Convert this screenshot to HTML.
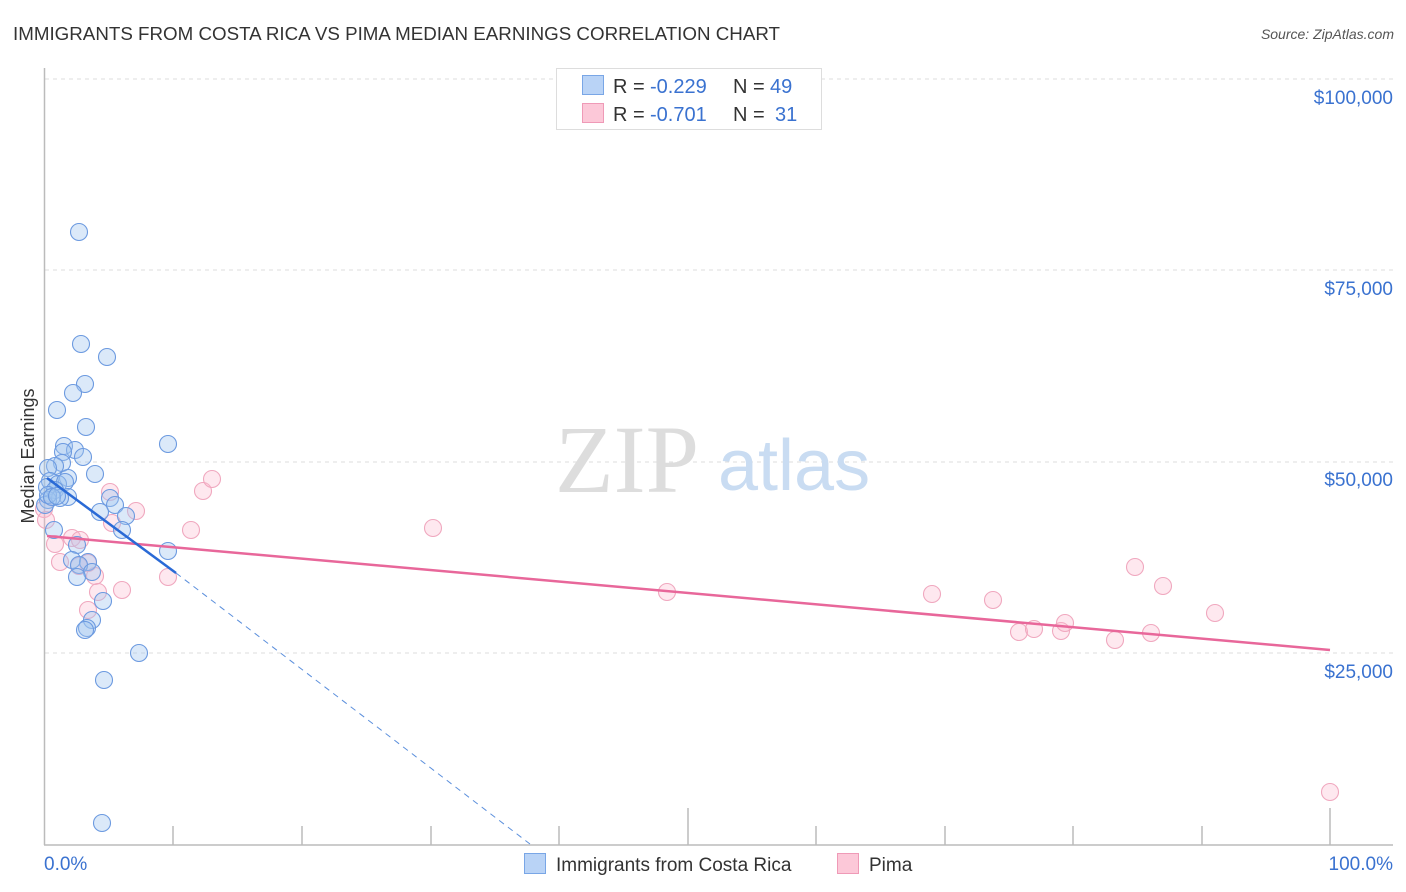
<!DOCTYPE html>
<html><head><meta charset="utf-8"><style>
html,body{margin:0;padding:0;background:#fff;}
svg{display:block;font-family:"Liberation Sans",sans-serif;}
</style></head><body>
<svg width="1406" height="892" viewBox="0 0 1406 892" xmlns="http://www.w3.org/2000/svg">
<text x="13" y="40" font-size="18" fill="#333" textLength="767" lengthAdjust="spacingAndGlyphs">IMMIGRANTS FROM COSTA RICA VS PIMA MEDIAN EARNINGS CORRELATION CHART</text>
<text x="1394" y="39" font-size="14" fill="#555" font-style="italic" text-anchor="end">Source: ZipAtlas.com</text>
<g stroke="#ddd" stroke-dasharray="4,4" stroke-width="1">
<line x1="45" y1="79" x2="1393" y2="79"/><line x1="45" y1="270" x2="1393" y2="270"/>
<line x1="45" y1="462" x2="1393" y2="462"/><line x1="45" y1="653" x2="1393" y2="653"/>
</g>
<text x="555" y="492" font-family="Liberation Serif,serif" font-size="96" fill="#ddd">ZIP</text>
<text x="718" y="490" font-size="72" fill="#c9dcf2">atlas</text>
<g stroke="#bbb" stroke-width="1.5">
<line x1="44.5" y1="68" x2="44.5" y2="845"/><line x1="44" y1="845" x2="1393" y2="845"/>
<line x1="173" y1="826" x2="173" y2="845"/><line x1="302" y1="826" x2="302" y2="845"/><line x1="431" y1="826" x2="431" y2="845"/><line x1="559" y1="826" x2="559" y2="845"/><line x1="688" y1="808" x2="688" y2="845"/><line x1="816" y1="826" x2="816" y2="845"/><line x1="945" y1="826" x2="945" y2="845"/><line x1="1073" y1="826" x2="1073" y2="845"/><line x1="1202" y1="826" x2="1202" y2="845"/><line x1="1330" y1="808" x2="1330" y2="845"/>
</g>
<g font-size="19" fill="#3a72d0" text-anchor="end">
<text x="1393" y="104">$100,000</text><text x="1393" y="295">$75,000</text><text x="1393" y="486">$50,000</text><text x="1393" y="678">$25,000</text>
</g>
<text x="44" y="870" font-size="19" fill="#3a72d0">0.0%</text>
<text x="1393" y="870" font-size="19" fill="#3a72d0" text-anchor="end">100.0%</text>
<text transform="translate(34,456) rotate(-90)" font-size="18" fill="#333" text-anchor="middle">Median Earnings</text>
<g fill="rgba(251,182,204,0.32)" stroke="#f0a8bf" stroke-width="1.1">
<circle cx="44" cy="509" r="8.5"/><circle cx="46" cy="520" r="8.5"/><circle cx="55" cy="544" r="8.5"/><circle cx="72" cy="538" r="8.5"/><circle cx="80" cy="540" r="8.5"/><circle cx="60" cy="562" r="8.5"/><circle cx="79" cy="566" r="8.5"/><circle cx="95" cy="576" r="8.5"/><circle cx="88" cy="563" r="8.5"/><circle cx="122" cy="590" r="8.5"/><circle cx="98" cy="592" r="8.5"/><circle cx="88" cy="610" r="8.5"/><circle cx="168" cy="577" r="8.5"/><circle cx="191" cy="530" r="8.5"/><circle cx="110" cy="492" r="8.5"/><circle cx="112" cy="523" r="8.5"/><circle cx="136" cy="511" r="8.5"/><circle cx="203" cy="491" r="8.5"/><circle cx="212" cy="479" r="8.5"/><circle cx="433" cy="528" r="8.5"/><circle cx="667" cy="592" r="8.5"/><circle cx="932" cy="594" r="8.5"/><circle cx="993" cy="600" r="8.5"/><circle cx="1019" cy="632" r="8.5"/><circle cx="1034" cy="629" r="8.5"/><circle cx="1061" cy="631" r="8.5"/><circle cx="1065" cy="623" r="8.5"/><circle cx="1115" cy="640" r="8.5"/><circle cx="1135" cy="567" r="8.5"/><circle cx="1151" cy="633" r="8.5"/><circle cx="1163" cy="586" r="8.5"/><circle cx="1215" cy="613" r="8.5"/><circle cx="1330" cy="792" r="8.5"/>
</g>
<g fill="rgba(160,196,240,0.38)" stroke="#6c9ae0" stroke-width="1.1">
<circle cx="79" cy="232" r="8.5"/><circle cx="81" cy="344" r="8.5"/><circle cx="107" cy="357" r="8.5"/><circle cx="85" cy="384" r="8.5"/><circle cx="73" cy="393" r="8.5"/><circle cx="57" cy="410" r="8.5"/><circle cx="86" cy="427" r="8.5"/><circle cx="168" cy="444" r="8.5"/><circle cx="64" cy="446" r="8.5"/><circle cx="75" cy="450" r="8.5"/><circle cx="63" cy="452" r="8.5"/><circle cx="83" cy="457" r="8.5"/><circle cx="62" cy="463" r="8.5"/><circle cx="55" cy="466" r="8.5"/><circle cx="48" cy="468" r="8.5"/><circle cx="95" cy="474" r="8.5"/><circle cx="68" cy="478" r="8.5"/><circle cx="50" cy="481" r="8.5"/><circle cx="58" cy="484" r="8.5"/><circle cx="65" cy="482" r="8.5"/><circle cx="47" cy="487" r="8.5"/><circle cx="55" cy="490" r="8.5"/><circle cx="68" cy="497" r="8.5"/><circle cx="60" cy="498" r="8.5"/><circle cx="48" cy="500" r="8.5"/><circle cx="45" cy="505" r="8.5"/><circle cx="48" cy="495" r="8.5"/><circle cx="52" cy="497" r="8.5"/><circle cx="57" cy="496" r="8.5"/><circle cx="110" cy="498" r="8.5"/><circle cx="115" cy="505" r="8.5"/><circle cx="100" cy="512" r="8.5"/><circle cx="126" cy="516" r="8.5"/><circle cx="54" cy="530" r="8.5"/><circle cx="122" cy="530" r="8.5"/><circle cx="168" cy="551" r="8.5"/><circle cx="77" cy="545" r="8.5"/><circle cx="72" cy="560" r="8.5"/><circle cx="88" cy="562" r="8.5"/><circle cx="79" cy="565" r="8.5"/><circle cx="92" cy="572" r="8.5"/><circle cx="77" cy="577" r="8.5"/><circle cx="103" cy="601" r="8.5"/><circle cx="92" cy="620" r="8.5"/><circle cx="87" cy="628" r="8.5"/><circle cx="85" cy="630" r="8.5"/><circle cx="139" cy="653" r="8.5"/><circle cx="104" cy="680" r="8.5"/><circle cx="102" cy="823" r="8.5"/>
</g>
<line x1="47" y1="536" x2="1330" y2="650" stroke="#e8679a" stroke-width="2.5"/>
<line x1="176" y1="573" x2="530" y2="844" stroke="#5b8fdc" stroke-width="1" stroke-dasharray="6,5"/>
<line x1="47" y1="478" x2="176" y2="573" stroke="#2a6ad6" stroke-width="2.5"/>
<rect x="556.5" y="68.5" width="265" height="61" fill="#fff" stroke="#ddd"/>
<rect x="582.5" y="75.5" width="21" height="19" fill="#b9d3f6" stroke="#79a6e6"/>
<rect x="582.5" y="103.5" width="21" height="19" fill="#fcc8d8" stroke="#ef9ab7"/>
<g font-size="20">
<text x="613" y="93" fill="#333">R = </text><text x="650" y="93" fill="#3a72d0">-0.229</text><text x="733" y="93" fill="#333">N = </text><text x="770" y="93" fill="#3a72d0">49</text>
<text x="613" y="121" fill="#333">R = </text><text x="650" y="121" fill="#3a72d0">-0.701</text><text x="733" y="121" fill="#333">N = </text><text x="775" y="121" fill="#3a72d0">31</text>
</g>
<rect x="524.5" y="853.5" width="21" height="20" fill="#b9d3f6" stroke="#79a6e6"/>
<text x="556" y="871" font-size="19" fill="#333">Immigrants from Costa Rica</text>
<rect x="837.5" y="853.5" width="21" height="20" fill="#fcc8d8" stroke="#ef9ab7"/>
<text x="869" y="871" font-size="19" fill="#333">Pima</text>
</svg>
</body></html>
